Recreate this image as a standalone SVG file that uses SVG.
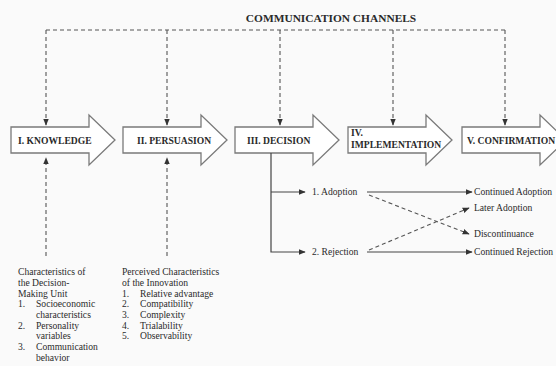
<svg xmlns="http://www.w3.org/2000/svg" width="556" height="366" viewBox="0 0 556 366">
<defs>
<marker id="ah" viewBox="0 0 10 10" refX="9" refY="5" markerWidth="7" markerHeight="7" markerUnits="userSpaceOnUse" orient="auto"><path d="M0,1 L10,5 L0,9 Z" fill="#333"/></marker>
<style>
.stage{fill:#fff;stroke:#7a7a7a;stroke-width:1.3}
.st{font-family:"Liberation Serif",serif;font-weight:bold;font-size:9.6px;fill:#2a2a2a}
.t{font-family:"Liberation Serif",serif;font-size:9.6px;fill:#2a2a2a}
.dash{fill:none;stroke:#555;stroke-width:1.1;stroke-dasharray:4 3}
.sol{fill:none;stroke:#444;stroke-width:1.2}
</style>
</defs>
<rect width="556" height="366" fill="#fafafa"/>
<text x="331" y="22" text-anchor="middle" style="font-family:'Liberation Serif',serif;font-weight:bold;font-size:11.4px;fill:#2a2a2a">COMMUNICATION CHANNELS</text>

<g id="knowledge">
<path class="stage" d="M11,127 H89 V115 L115,140 L89,165 V153 H11 Z"/>
<text class="st" x="18" y="143.5">I. KNOWLEDGE</text>
</g>
<g id="persuasion">
<path class="stage" d="M123,127 H201 V115 L227,140 L201,165 V153 H123 Z"/>
<text class="st" x="137" y="143.5">II. PERSUASION</text>
</g>
<g id="decision">
<path class="stage" d="M235,127 H313 V115 L339,140 L313,165 V153 H235 Z"/>
<text class="st" x="247" y="143.5">III. DECISION</text>
</g>
<g id="implementation">
<path class="stage" d="M348,127 H426 V115 L452,140 L426,165 V153 H348 Z"/>
<text class="st" x="351" y="136">IV.</text>
<text class="st" x="351" y="148">IMPLEMENTATION</text>
</g>
<g id="confirmation">
<path class="stage" d="M462,127 H540 V115 L566,140 L540,165 V153 H462 Z"/>
<text class="st" x="467" y="143.5">V. CONFIRMATION</text>
</g>

<g id="adoption"><text class="t" x="312" y="195">1. Adoption</text></g>
<g id="rejection"><text class="t" x="312" y="255">2. Rejection</text></g>
<g id="continued-adoption"><text class="t" x="474" y="195">Continued Adoption</text></g>
<g id="later-adoption"><text class="t" x="474" y="211">Later Adoption</text></g>
<g id="discontinuance"><text class="t" x="474" y="237">Discontinuance</text></g>
<g id="continued-rejection"><text class="t" x="474" y="255">Continued Rejection</text></g>

<g id="decision-unit">
<text class="t" x="18" y="275">Characteristics of</text>
<text class="t" x="18" y="286">the Decision-</text>
<text class="t" x="18" y="296.5">Making Unit</text>
<text class="t" x="18" y="307">1.</text><text class="t" x="36" y="307">Socioeconomic</text>
<text class="t" x="36" y="318">characteristics</text>
<text class="t" x="18" y="328.5">2.</text><text class="t" x="36" y="328.5">Personality</text>
<text class="t" x="36" y="339">variables</text>
<text class="t" x="18" y="350">3.</text><text class="t" x="36" y="350">Communication</text>
<text class="t" x="36" y="360.5">behavior</text>
</g>
<g id="innovation">
<text class="t" x="122" y="275">Perceived Characteristics</text>
<text class="t" x="122" y="286">of the Innovation</text>
<text class="t" x="122" y="296.5">1.</text><text class="t" x="140" y="296.5">Relative advantage</text>
<text class="t" x="122" y="307">2.</text><text class="t" x="140" y="307">Compatibility</text>
<text class="t" x="122" y="318">3.</text><text class="t" x="140" y="318">Complexity</text>
<text class="t" x="122" y="328.5">4.</text><text class="t" x="140" y="328.5">Trialability</text>
<text class="t" x="122" y="339">5.</text><text class="t" x="140" y="339">Observability</text>
</g>

<g id="connectors">
<path class="dash" d="M46,30 H505"/>
<path class="dash" d="M46,30 V125" marker-end="url(#ah)"/>
<path class="dash" d="M167,30 V125" marker-end="url(#ah)"/>
<path class="dash" d="M280,30 V125" marker-end="url(#ah)"/>
<path class="dash" d="M393,30 V125" marker-end="url(#ah)"/>
<path class="dash" d="M505,30 V125" marker-end="url(#ah)"/>
<path class="dash" d="M46,256 V158" marker-end="url(#ah)"/>
<path class="dash" d="M167,256 V158" marker-end="url(#ah)"/>
<path class="sol" d="M271,153 V252 H305" marker-end="url(#ah)"/>
<path class="sol" d="M271,192 H305" marker-end="url(#ah)"/>
<path class="sol" d="M367,192 H472" marker-end="url(#ah)"/>
<path class="sol" d="M367,252 H472" marker-end="url(#ah)"/>
<path class="dash" d="M369,195 L469,234" marker-end="url(#ah)"/>
<path class="dash" d="M369,250 L469,208" marker-end="url(#ah)"/>
</g>
</svg>
